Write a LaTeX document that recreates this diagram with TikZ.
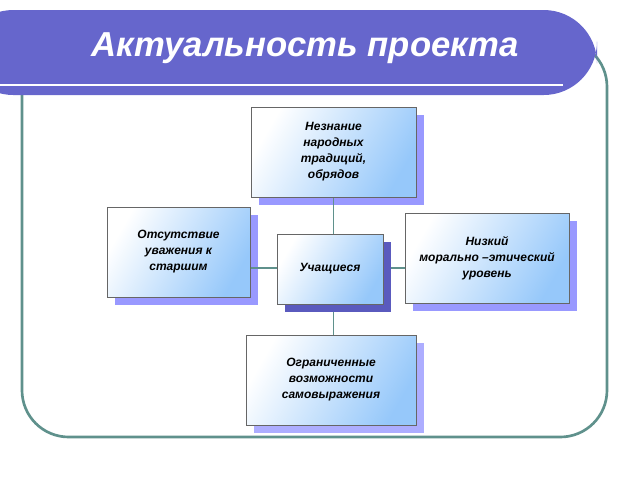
\documentclass[tikz,border=0pt]{standalone}
\usepackage{fontspec}
\setmainfont{Liberation Sans}
\usepackage{tikz}

\definecolor{banner}{RGB}{102,102,204}
\definecolor{frameteal}{RGB}{95,145,140}
\definecolor{shadowlight}{RGB}{153,153,255}
\definecolor{shadowdark}{RGB}{90,90,190}
\definecolor{boxblue}{RGB}{150,200,250}

\tikzset{
  card/.style={draw=gray!80!black, line width=0.6pt, align=center, inner sep=0pt,
    font=\bfseries\itshape\fontsize{9}{12}\selectfont,
    left color=white, right color=boxblue, shading angle=60},
  link/.style={draw=frameteal, line width=1pt}
}

\begin{document}
\begin{tikzpicture}[x=0.75pt,y=0.75pt,yscale=-1,xscale=1]
        \useasboundingbox (0,0) rectangle (640,480);

        %Frame
        \draw [frameteal, line width=2pt, rounded corners=35] (22,40) rectangle (607,437);
        %Banner
        \fill [banner, rounded corners=40] (-40,10) rectangle (597,95);
        \draw [white, line width=1pt] (0,85) -- (563,85);
        \node (title) [white, font=\bfseries\itshape\fontsize{26}{30}\selectfont] at (305,48) {Актуальность проекта};

        %Shadows
        \fill [shadowlight] (259,115) rectangle (424,205);
        \fill [shadowlight] (115,215) rectangle (258,305);
        \fill [shadowlight] (413,221) rectangle (577,311);
        \fill [shadowlight!80!white] (254,343) rectangle (424,433);

        %Connectors
        \path (333.5,197) coordinate (c1) (333.5,335) coordinate (c2) (250,268) coordinate (c3) (405,268) coordinate (c4);
        \draw [link] (c1) -- (c2);
        \draw [link] (c3) -- (c4);

        %Cards
        \node (tradition) [card, minimum width=165*0.75pt, minimum height=90*0.75pt] at (333.5,152) {Незнание\\ народных\\ традиций,\\ обрядов};
        \node (respect) [card, minimum width=143*0.75pt, minimum height=90*0.75pt] at (178.5,252) {Отсутствие\\ уважения к\\ старшим};
        \node (ethics) [card, minimum width=164*0.75pt, minimum height=90*0.75pt] at (487,258) {Низкий\\ морально –этический\\ уровень};
        \fill [shadowdark] (285,242) rectangle (391,312);
        \node (pupils) [card, minimum width=106*0.75pt, minimum height=70*0.75pt] at (330,269) {Учащиеся};
        \node (limits) [card, minimum width=170*0.75pt, minimum height=90*0.75pt] at (331,380) {Ограниченные\\ возможности\\ самовыражения};
\end{tikzpicture}
\end{document}
